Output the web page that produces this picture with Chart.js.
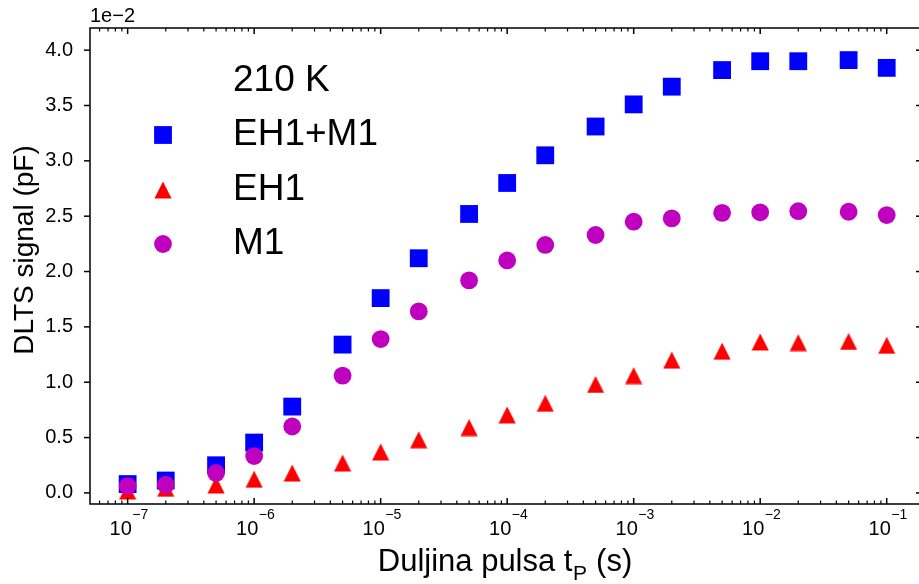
<!DOCTYPE html>
<html>
<head>
<meta charset="utf-8">
<script src="https://cdn.jsdelivr.net/npm/chart.js"></script>
<style>
    html, body { margin: 0; padding: 0; background: #fff; }
    #wrap { width: 919px; height: 584px; }
</style>
</head>
<body>
<div id="wrap"><canvas id="dltsChart" width="919" height="584"></canvas></div>
<script>
// pulse lengths (s) and DLTS signal in units of 1e-2 pF
const pulseLengths = [1e-7, 2e-7, 5e-7, 1e-6, 2e-6, 5e-6, 1e-5, 2e-5, 5e-5, 1e-4,
    2e-4, 5e-4, 1e-3, 2e-3, 5e-3, 1e-2, 2e-2, 5e-2, 1e-1];
const signalEH1M1 = [0.08, 0.112, 0.25, 0.455, 0.78, 1.34, 1.76, 2.12, 2.52, 2.80,
    3.05, 3.31, 3.51, 3.67, 3.82, 3.90, 3.90, 3.91, 3.84];
const signalEH1 = [0.018, 0.042, 0.072, 0.124, 0.18, 0.27, 0.37, 0.48, 0.59, 0.705,
    0.81, 0.98, 1.06, 1.20, 1.28, 1.364, 1.358, 1.368, 1.334];
const signalM1 = [0.062, 0.074, 0.18, 0.333, 0.60, 1.06, 1.39, 1.64, 1.92, 2.10,
    2.24, 2.33, 2.45, 2.48, 2.53, 2.535, 2.545, 2.54, 2.51];

const seriesLabels = ['EH1+M1', 'EH1', 'M1'];
const legendTitle = '210 K';
const yTicks = [0.0, 0.5, 1.0, 1.5, 2.0, 2.5, 3.0, 3.5, 4.0];
const xMajorTicks = [1e-7, 1e-6, 1e-5, 1e-4, 1e-3, 1e-2, 1e-1];
const xTickExponents = ['\u22127', '\u22126', '\u22125', '\u22124', '\u22123', '\u22122', '\u22121'];

const FONT = '"Liberation Sans", Arial, Helvetica, sans-serif';
const colors = {
    blue: '#0000ff',
    red: '#ff0000',
    magenta: '#bf00bf'
};

// matplotlib style '^' marker: box-centred isosceles triangle
function makeTriangle(color) {
    const c = document.createElement('canvas');
    c.width = 18;
    c.height = 18;
    const g = c.getContext('2d');
    g.fillStyle = color;
    g.beginPath();
    g.moveTo(9, 0.4);
    g.lineTo(17.6, 17.6);
    g.lineTo(0.4, 17.6);
    g.closePath();
    g.fill();
    return c;
}
const triangleRed = makeTriangle(colors.red);

function toPoints(values) {
    return pulseLengths.map((x, i) => ({ x: x, y: values[i] }));
}

function minorTicks(min, max) {
    const out = [];
    for (let e = -8; e <= 0; e++) {
        for (let k = 2; k <= 9; k++) {
            const v = k * Math.pow(10, e);
            if (v > min && v < max) out.push(v);
        }
    }
    return out;
}

const axesDecor = {
    id: 'axesDecor',
    afterDraw(chart) {
        const { ctx, chartArea: a, scales: { x, y } } = chart;
        ctx.save();
        ctx.strokeStyle = '#000';
        ctx.lineWidth = 1.5;

        function seg(x1, y1, x2, y2) {
            ctx.beginPath();
            ctx.moveTo(x1, y1);
            ctx.lineTo(x2, y2);
            ctx.stroke();
        }

        // spines (the right one sits just past the canvas edge)
        ctx.beginPath();
        ctx.moveTo(a.right + 3, a.top);
        ctx.lineTo(a.left, a.top);
        ctx.lineTo(a.left, a.bottom);
        ctx.lineTo(a.right + 3, a.bottom);
        ctx.stroke();

        // x ticks, inward on bottom and top
        xMajorTicks.forEach(v => {
            const px = x.getPixelForValue(v);
            seg(px, a.bottom, px, a.bottom - 6);
            seg(px, a.top, px, a.top + 6);
        });
        ctx.lineWidth = 1.2;
        minorTicks(x.min, x.max).forEach(v => {
            const px = x.getPixelForValue(v);
            seg(px, a.bottom, px, a.bottom - 3.5);
            seg(px, a.top, px, a.top + 3.5);
        });

        // y ticks: outward on left, inward on right
        ctx.lineWidth = 1.5;
        yTicks.forEach(v => {
            const py = y.getPixelForValue(v);
            seg(a.left, py, a.left - 6, py);
            seg(a.right, py, a.right - 3, py);
        });

        // x tick labels 10^n
        ctx.fillStyle = '#000';
        ctx.textBaseline = 'alphabetic';
        ctx.textAlign = 'left';
        xMajorTicks.forEach((v, i) => {
            const px = x.getPixelForValue(v);
            ctx.font = '20px ' + FONT;
            const wBase = ctx.measureText('10').width;
            ctx.font = '14px ' + FONT;
            const wExp = ctx.measureText(xTickExponents[i]).width;
            const start = px - (wBase + wExp) / 2 + 1;
            ctx.font = '20px ' + FONT;
            ctx.fillText('10', start, 535);
            ctx.font = '14px ' + FONT;
            ctx.fillText(xTickExponents[i], start + wBase + 0.5, 519);
        });

        // offset text
        ctx.font = '20px ' + FONT;
        ctx.fillText('1e\u22122', a.left, 22);

        // x axis title with subscript
        ctx.font = '31px ' + FONT;
        const p1 = 'Duljina pulsa t';
        const p3 = ' (s)';
        const w1 = ctx.measureText(p1).width;
        const w3 = ctx.measureText(p3).width;
        ctx.font = '21px ' + FONT;
        const w2 = ctx.measureText('P').width;
        let sx = (a.left + a.right) / 2 - (w1 + w2 + w3) / 2;
        ctx.font = '31px ' + FONT;
        ctx.fillText(p1, sx, 571);
        ctx.font = '21px ' + FONT;
        ctx.fillText('P', sx + w1 + 0.5, 580);
        ctx.font = '31px ' + FONT;
        ctx.fillText(p3, sx + w1 + w2 + 1, 571);

        // y axis title
        ctx.save();
        ctx.translate(33, 250);
        ctx.rotate(-Math.PI / 2);
        ctx.textAlign = 'center';
        ctx.font = '28px ' + FONT;
        ctx.fillText('DLTS signal (pF)', 0, 0);
        ctx.restore();

        // legend
        ctx.font = '37px ' + FONT;
        ctx.textAlign = 'left';
        ctx.fillText(legendTitle, 233, 91);
        const rowsY = [145, 200, 254];
        const markY = [135, 190, 244];
        const mx = 163;
        seriesLabels.forEach((lbl, i) => {
            ctx.fillStyle = '#000';
            ctx.fillText(lbl, 233, rowsY[i]);
            if (i === 0) {
                ctx.fillStyle = colors.blue;
                ctx.fillRect(mx - 8.9, markY[i] - 8.9, 17.8, 17.8);
            } else if (i === 1) {
                ctx.drawImage(triangleRed, mx - 9, markY[i] - 9);
            } else {
                ctx.fillStyle = colors.magenta;
                ctx.beginPath();
                ctx.arc(mx, markY[i], 8.9, 0, Math.PI * 2);
                ctx.fill();
            }
        });
        ctx.restore();
    }
};

const ctx = document.getElementById('dltsChart').getContext('2d');
new Chart(ctx, {
    type: 'scatter',
    data: {
        datasets: [{
            label: seriesLabels[0],
            data: toPoints(signalEH1M1),
            pointStyle: 'rect',
            pointRadius: 12.6,
            pointHoverRadius: 12.6,
            pointBorderWidth: 0,
            backgroundColor: colors.blue,
            borderColor: colors.blue,
            order: 3
        }, {
            label: seriesLabels[1],
            data: toPoints(signalEH1),
            pointStyle: triangleRed,
            pointRadius: 9,
            pointBorderWidth: 0,
            backgroundColor: colors.red,
            borderColor: colors.red,
            order: 2
        }, {
            label: seriesLabels[2],
            data: toPoints(signalM1),
            pointStyle: 'circle',
            pointRadius: 8.9,
            pointHoverRadius: 8.9,
            pointBorderWidth: 0,
            backgroundColor: colors.magenta,
            borderColor: colors.magenta,
            order: 1
        }]
    },
    options: {
        responsive: false,
        animation: false,
        events: [],
        layout: {
            autoPadding: false,
            padding: { left: 0, right: 0, top: 28, bottom: 0 }
        },
        plugins: {
            legend: { display: false },
            tooltip: { enabled: false }
        },
        scales: {
            x: {
                type: 'logarithmic',
                min: 5.04e-8,
                max: 0.18,
                grid: { display: false },
                border: { display: false },
                ticks: { display: false },
                afterFit: scale => { scale.height = 80; }
            },
            y: {
                type: 'linear',
                min: -0.10,
                max: 4.2,
                grid: { display: false },
                border: { display: false },
                afterBuildTicks: scale => {
                    scale.ticks = yTicks.map(v => ({ value: v }));
                },
                ticks: {
                    color: '#000',
                    padding: 9,
                    autoSkip: false,
                    font: { family: FONT, size: 20 },
                    callback: v => Number(v).toFixed(1)
                },
                afterFit: scale => { scale.width = 90; }
            }
        }
    },
    plugins: [axesDecor]
});
</script>
</body>
</html>
